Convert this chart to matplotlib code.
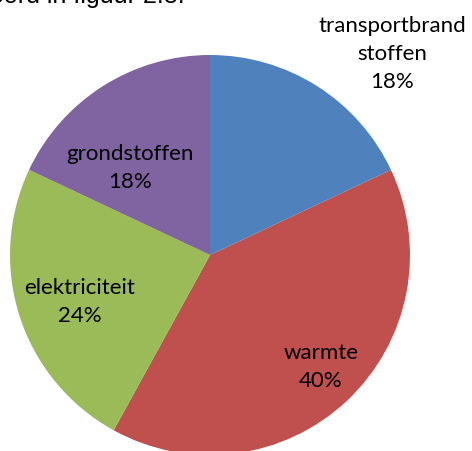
import matplotlib
matplotlib.use("Agg")
import matplotlib.pyplot as plt

# energy use shares (percent), clockwise from 12 o'clock
categories = ["transportbrand\nstoffen", "warmte", "elektriciteit", "grondstoffen"]
shares = [18, 40, 24, 18]
colors = ["#4F81BD", "#C0504D", "#9BBB59", "#8064A2"]

W, H = 472, 452
fig = plt.figure(figsize=(W / 100, H / 100), dpi=100)
ax = fig.add_axes([0, 0, 1, 1])

# pie centre / radius in pixel coords (y measured up from bottom)
cx, cy, r = 210, H - 256, 200
wedges, _ = ax.pie(shares, colors=colors, startangle=90, counterclock=False,
                   center=(cx, cy), radius=r, frame=True,
                   wedgeprops=dict(linewidth=0))
ax.set_xlim(0, W)
ax.set_ylim(0, H)
ax.axis("off")

# label positions (pixels from top-left)
label_pos = [(392, 54), (321, 367), (80, 302), (130, 168)]
for name, val, (x, y) in zip(categories, shares, label_pos):
    ax.text(x, H - y, f"{name}\n{val}%", ha="center", va="center",
            fontsize=16, family="Lato", linespacing=1.5, color="black")

# cut-off caption text from the page above the chart
ax.text(-10, H - 3, "oord in figuur 2.8.", ha="left", va="baseline",
        fontsize=18, family="Liberation Sans", color="black")

fig.savefig("out.png", dpi=100)
